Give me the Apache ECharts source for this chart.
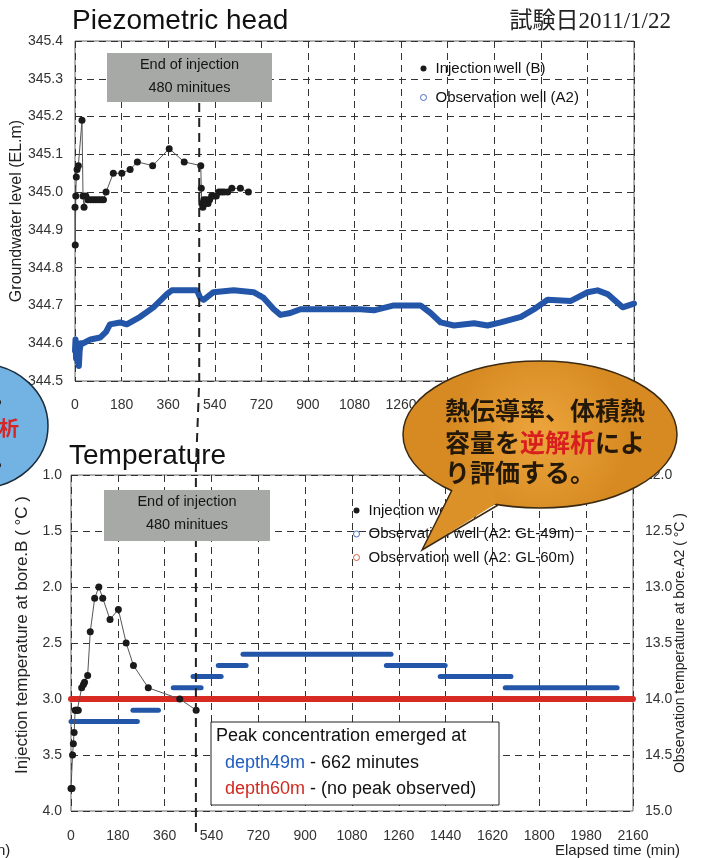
<!DOCTYPE html>
<html><head><meta charset="utf-8">
<script src="https://cdn.jsdelivr.net/npm/echarts@6/dist/echarts.min.js"></script>
<style>html,body{margin:0;padding:0;background:#fff}#c{width:705px;height:858px}</style>
</head><body><div id="c"></div>
<script>
const FONT = '"Liberation Sans", Arial, Helvetica, sans-serif';
const CJK = '"Noto Sans CJK JP", "Noto Sans CJK SC", sans-serif';

// ---- ticks ----
const timeTicks = [0, 180, 360, 540, 720, 900, 1080, 1260, 1440, 1620, 1800, 1980, 2160];
const headTicks = [344.5, 344.6, 344.7, 344.8, 344.9, 345.0, 345.1, 345.2, 345.3, 345.4];
const injTempTicks = [1.0, 1.5, 2.0, 2.5, 3.0, 3.5, 4.0];
const obsTempTicks = [12.0, 12.5, 13.0, 13.5, 14.0, 14.5, 15.0];
const injectionEnd = 480;

// ---- Piezometric head : injection well (B) ----
const injHeadTime = [0, 1, 3, 5, 8, 13, 27, 31, 35, 42, 50, 60, 70, 80, 90, 100, 110, 120, 148, 181, 213, 241, 300, 364, 422, 486, 488, 490, 494, 498, 503, 508, 514, 520, 528, 536, 546, 556, 566, 576, 590, 606, 639, 670];
const injHeadLevel = [344.96, 344.86, 344.99, 345.04, 345.06, 345.07, 345.19, 344.99, 344.96, 344.99, 344.98, 344.98, 344.98, 344.98, 344.98, 344.98, 344.98, 345.00, 345.05, 345.05, 345.06, 345.08, 345.07, 345.115, 345.08, 345.07, 345.01, 344.97, 344.96, 344.98, 344.97, 344.98, 344.97, 344.98, 344.99, 344.99, 344.99, 345.0, 345.0, 345.0, 345.0, 345.01, 345.01, 345.0];

// ---- Piezometric head : observation well (A2) ----
const obsHeadTime = [0, 2, 4, 6, 8, 10, 12, 15, 18, 22, 32, 60, 97, 120, 135, 174, 200, 252, 303, 355, 374, 430, 471, 484, 497, 535, 613, 690, 729, 768, 794, 832, 871, 1000, 1103, 1155, 1232, 1335, 1374, 1413, 1464, 1542, 1594, 1645, 1723, 1774, 1826, 1916, 1981, 2019, 2058, 2116, 2160];
const obsHeadLevel = [344.58, 344.61, 344.56, 344.60, 344.57, 344.55, 344.60, 344.54, 344.58, 344.60, 344.60, 344.61, 344.615, 344.63, 344.65, 344.655, 344.65, 344.67, 344.695, 344.73, 344.74, 344.74, 344.74, 344.72, 344.715, 344.735, 344.74, 344.735, 344.72, 344.69, 344.675, 344.68, 344.69, 344.69, 344.69, 344.687, 344.70, 344.70, 344.68, 344.655, 344.647, 344.653, 344.647, 344.655, 344.67, 344.69, 344.715, 344.712, 344.735, 344.74, 344.73, 344.695, 344.705];

// ---- Temperature : injection well (B) ----
const injTempTime = [0, 4, 6, 9, 12, 16, 20, 24, 28, 41, 48, 52, 64, 74, 91, 107, 122, 150, 182, 212, 240, 297, 418, 481];
const injTempValue = [3.8, 3.8, 3.5, 3.4, 3.3, 3.1, 3.1, 3.1, 3.1, 2.9, 2.87, 2.85, 2.79, 2.4, 2.1, 2.0, 2.1, 2.29, 2.2, 2.5, 2.7, 2.9, 3.0, 3.1];

// ---- Temperature : observation well A2 GL-49m (stepped) ----
const obs49Start = [0, 238, 393, 469, 566, 661, 1212, 1419, 1669];
const obs49End = [255, 336, 500, 577, 673, 1230, 1438, 1691, 2099];
const obs49Value = [14.2, 14.1, 13.9, 13.8, 13.7, 13.6, 13.7, 13.8, 13.9];

// ---- Temperature : observation well A2 GL-60m ----
const obs60Start = [0];
const obs60End = [2160];
const obs60Value = [14.0];

const BLUE = '#2356a8';
const RED = '#d62a22';
const DOT = '#1a1a1a';
const gridLine = { type: [7, 5], color: '#333', width: 1 };
const fmt1 = v => v.toFixed(1);

const chart = echarts.init(document.getElementById('c'), null, { renderer: 'canvas' });

function xAxisCfg(gi, margin) {
  return {
    gridIndex: gi, type: 'value',
    min: timeTicks[0], max: timeTicks[timeTicks.length - 1], interval: timeTicks[1] - timeTicks[0],
    axisLine: { show: false }, axisTick: { show: false },
    axisLabel: { margin: margin, fontSize: 14, color: '#333', fontFamily: FONT, formatter: v => String(v) },
    splitLine: { show: true, lineStyle: gridLine }
  };
}

const series = [];
series.push({
  name: 'Observation well (A2)', type: 'line', xAxisIndex: 0, yAxisIndex: 0,
  data: obsHeadTime.map((t, i) => [t, obsHeadLevel[i]]),
  symbol: 'none', lineStyle: { color: BLUE, width: 6, cap: 'round', join: 'round' }, itemStyle: { color: BLUE }, z: 3
});
series.push({
  name: 'Injection well (B)', type: 'line', xAxisIndex: 0, yAxisIndex: 0,
  data: injHeadTime.map((t, i) => [t, injHeadLevel[i]]),
  symbol: 'circle', symbolSize: 7, showAllSymbol: true,
  itemStyle: { color: DOT }, lineStyle: { color: '#555', width: 1 }, z: 4
});
obs49Value.forEach((v, i) => {
  series.push({
    name: 'Observation well (A2: GL-49m)', type: 'line', xAxisIndex: 1, yAxisIndex: 2,
    data: [[obs49Start[i], v], [obs49End[i], v]],
    symbol: 'none', lineStyle: { color: BLUE, width: 5, cap: 'round' }, itemStyle: { color: BLUE }, z: 3
  });
});
obs60Value.forEach((v, i) => {
  series.push({
    name: 'Observation well (A2: GL-60m)', type: 'line', xAxisIndex: 1, yAxisIndex: 2,
    data: [[obs60Start[i], v], [obs60End[i], v]],
    symbol: 'none', lineStyle: { color: RED, width: 6, cap: 'round' }, itemStyle: { color: RED }, z: 3
  });
});
series.push({
  name: 'Injection well (B)', type: 'line', xAxisIndex: 1, yAxisIndex: 1,
  data: injTempTime.map((t, i) => [t, injTempValue[i]]),
  symbol: 'circle', symbolSize: 7, showAllSymbol: true,
  itemStyle: { color: DOT }, lineStyle: { color: '#555', width: 1 }, z: 4
});

const legendText = { fontSize: 15, color: '#111', fontFamily: FONT, padding: [0, 0, 0, 4] };
const option = {
  animation: false,
  backgroundColor: '#fff',
  textStyle: { fontFamily: FONT },
  title: [
    { text: 'Piezometric head', left: 72, top: 7, padding: 0, textStyle: { fontSize: 28, fontWeight: 'normal', color: '#111', fontFamily: FONT } },
    { text: 'Temperature', left: 69, top: 442, padding: 0, textStyle: { fontSize: 28, fontWeight: 'normal', color: '#111', fontFamily: FONT } },
    { text: '試験日2011/1/22', right: 34, top: 10, padding: 0, textStyle: { fontSize: 23, fontWeight: 'normal', color: '#222', fontFamily: '"Liberation Serif", "Noto Sans CJK JP", serif' } }
  ],
  grid: [
    { left: 75, top: 41, width: 559, height: 340, show: true, borderColor: '#666', borderWidth: 1, outerBoundsMode: 'none', containLabel: false },
    { left: 71, top: 475, width: 562, height: 336, show: true, borderColor: '#666', borderWidth: 1, outerBoundsMode: 'none', containLabel: false }
  ],
  xAxis: [xAxisCfg(0, 17), xAxisCfg(1, 18)],
  yAxis: [
    {
      gridIndex: 0, type: 'value', min: headTicks[0], max: headTicks[headTicks.length - 1], interval: 0.1,
      name: 'Groundwater level (EL.m)', nameLocation: 'middle', nameGap: 50, nameMoveOverlap: false,
      nameTextStyle: { fontSize: 16, color: '#222', fontFamily: FONT },
      axisLine: { show: false }, axisTick: { show: false },
      axisLabel: { formatter: fmt1, margin: 12, fontSize: 14, color: '#333' },
      splitLine: { show: true, lineStyle: gridLine }
    },
    {
      gridIndex: 1, type: 'value', inverse: true, min: injTempTicks[0], max: injTempTicks[injTempTicks.length - 1], interval: 0.5,
      name: 'Injection temperature at bore.B ( °C )', nameLocation: 'middle', nameGap: 40, nameMoveOverlap: false,
      nameTextStyle: { fontSize: 17, color: '#222', fontFamily: FONT, padding: [0, 0, 0, 16] },
      axisLine: { show: false }, axisTick: { show: false },
      axisLabel: { formatter: fmt1, margin: 9, fontSize: 14, color: '#333' },
      splitLine: { show: true, lineStyle: gridLine }
    },
    {
      gridIndex: 1, type: 'value', inverse: true, position: 'right', min: obsTempTicks[0], max: obsTempTicks[obsTempTicks.length - 1], interval: 0.5,
      name: 'Observation temperature at bore.A2 ( °C )', nameLocation: 'middle', nameGap: 40, nameMoveOverlap: false,
      nameTextStyle: { fontSize: 14, color: '#222', fontFamily: FONT },
      axisLine: { show: false }, axisTick: { show: false },
      axisLabel: { formatter: fmt1, margin: 12, fontSize: 14, color: '#333' },
      splitLine: { show: false }
    }
  ],
  legend: [
    {
      orient: 'vertical', left: 420, top: 61, padding: 0, itemWidth: 6, itemHeight: 6, itemGap: 14, selectedMode: false,
      textStyle: legendText,
      data: [
        { name: 'Injection well (B)', icon: 'circle', itemStyle: { color: DOT } },
        { name: 'Observation well (A2)', icon: 'circle', itemStyle: { color: '#fff', borderColor: '#4a6fc0', borderWidth: 1 } }
      ]
    },
    {
      orient: 'vertical', left: 353, top: 503, padding: 0, itemWidth: 6, itemHeight: 6, itemGap: 8.5, selectedMode: false,
      textStyle: legendText,
      data: [
        { name: 'Injection well (B)', icon: 'circle', itemStyle: { color: DOT } },
        { name: 'Observation well (A2: GL-49m)', icon: 'circle', itemStyle: { color: '#fff', borderColor: '#4a6fc0', borderWidth: 1 } },
        { name: 'Observation well (A2: GL-60m)', icon: 'circle', itemStyle: { color: '#fff', borderColor: '#d0603a', borderWidth: 1 } }
      ]
    }
  ],
  series: series
};
chart.setOption(option);

// positions of the 480-minute line from the library's scales
const xTop = chart.convertToPixel({ xAxisIndex: 0 }, injectionEnd);
const xBot = chart.convertToPixel({ xAxisIndex: 1 }, injectionEnd);
const yTopGridBottom = chart.convertToPixel({ yAxisIndex: 0 }, headTicks[0]);
const yBotGridTop = chart.convertToPixel({ yAxisIndex: 1 }, injTempTicks[0]);

function grayBox(x, y, w, h) {
  return {
    type: 'group', z: 60, children: [
      { type: 'rect', shape: { x: x, y: y, width: w, height: h }, style: { fill: '#a7a9a7' }, z: 60 },
      { type: 'text', x: x + w / 2, y: y + 12, style: { text: 'End of injection', align: 'center', verticalAlign: 'middle', font: '14.5px ' + FONT, fill: '#151515' }, z: 61 },
      { type: 'text', x: x + w / 2, y: y + 35, style: { text: '480 minitues', align: 'center', verticalAlign: 'middle', font: '14.5px ' + FONT, fill: '#151515' }, z: 61 }
    ]
  };
}

chart.setOption({
  graphic: [
    {
      type: 'polyline', z: 50,
      shape: { points: [[xTop, 58], [xTop, yTopGridBottom], [xBot, yBotGridTop - 6], [xBot, 837]] },
      style: { stroke: '#222', lineWidth: 2, lineDash: [9, 6], fill: null }
    },
    grayBox(107, 53, 165, 49),
    grayBox(104, 490, 166, 51),
    // peak annotation box
    { type: 'rect', z: 60, shape: { x: 211, y: 722, width: 288, height: 83 }, style: { fill: '#fff', stroke: '#222', lineWidth: 1 } },
    { type: 'text', z: 61, x: 216, y: 736, style: { text: 'Peak concentration emerged at', verticalAlign: 'middle', font: '18px ' + FONT, fill: '#111' } },
    { type: 'text', z: 61, x: 225, y: 763, style: { text: '{b|depth49m} - 662 minutes', verticalAlign: 'middle', font: '18px ' + FONT, fill: '#111', rich: { b: { fill: '#1e5cc0', font: '18px ' + FONT } } } },
    { type: 'text', z: 61, x: 225, y: 789, style: { text: '{r|depth60m} - (no peak observed)', verticalAlign: 'middle', font: '18px ' + FONT, fill: '#111', rich: { r: { fill: '#d02a20', font: '18px ' + FONT } } } },
    // x axis name
    { type: 'text', z: 61, x: 555, y: 851, style: { text: 'Elapsed time (min)', verticalAlign: 'middle', font: '15px ' + FONT, fill: '#222' } },
    { type: 'text', z: 61, x: -3, y: 851, style: { text: 'n)', verticalAlign: 'middle', font: '15px ' + FONT, fill: '#222' } },
    // left blue bubble (partially off-page)
    { type: 'ellipse', z: 90, shape: { cx: -20, cy: 426, rx: 68, ry: 62 }, style: { fill: '#72b3e4', stroke: '#1d2a3a', lineWidth: 1.5 } },
    { type: 'text', z: 91, x: 19, y: 428, style: { text: '逆解析', align: 'right', verticalAlign: 'middle', font: 'bold 20px ' + CJK, fill: '#d42424' } },
    { type: 'text', z: 91, x: -6, y: 396, style: { text: '。', verticalAlign: 'middle', font: 'bold 20px ' + CJK, fill: '#222' } },
    { type: 'text', z: 91, x: -6, y: 459, style: { text: '。', verticalAlign: 'middle', font: 'bold 20px ' + CJK, fill: '#222' } },
    // orange callout
    {
      type: 'ellipse', z: 95, shape: { cx: 540, cy: 434.5, rx: 137, ry: 73.5 },
      style: { fill: { type: 'radial', x: 0.5, y: 0.5, r: 0.6, colorStops: [{ offset: 0, color: '#eca53c' }, { offset: 1, color: '#d78a22' }] }, stroke: '#3a2a12', lineWidth: 1.5 }
    },
    { type: 'polygon', z: 96, shape: { points: [[452, 489], [422, 550], [497, 503], [490, 480], [460, 478]] }, style: { fill: '#dc9128' } },
    { type: 'polyline', z: 97, shape: { points: [[452, 490], [422, 550], [498, 505]] }, style: { stroke: '#3a2a12', lineWidth: 1.5, fill: null } },
    { type: 'text', z: 98, x: 445, y: 410, style: { text: '熱伝導率、体積熱', verticalAlign: 'middle', font: 'bold 25px ' + CJK, fill: '#241808' } },
    { type: 'text', z: 98, x: 445, y: 442, style: { text: '容量を{r|逆解析}によ', verticalAlign: 'middle', font: 'bold 25px ' + CJK, fill: '#241808', rich: { r: { fill: '#d81e1e', font: 'bold 25px ' + CJK } } } },
    { type: 'text', z: 98, x: 445, y: 472, style: { text: 'り評価する。', verticalAlign: 'middle', font: 'bold 25px ' + CJK, fill: '#241808' } }
  ]
});
</script>
</body></html>
